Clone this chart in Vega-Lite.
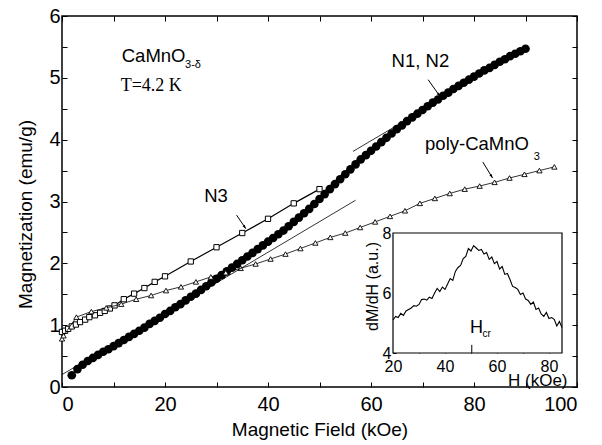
{
  "$schema": "https://vega.github.io/schema/vega-lite/v6.json",
  "width": 515,
  "height": 371,
  "autosize": {"type": "none"},
  "padding": {"left": 62, "top": 16, "right": 25, "bottom": 58},
  "background": "white",
  "config": {
    "view": {"stroke": "black", "strokeWidth": 1.5},
    "font": "Liberation Sans",
    "axis": {"grid": false, "domain": false, "tickColor": "black", "labelColor": "black", "titleColor": "black", "titleFontWeight": "normal", "labelFont": "Liberation Sans", "titleFont": "Liberation Sans", "zindex": 1}
  },
  "datasets": {
    "circles": [
      {"H":1.9,"M":0.19},{"H":3,"M":0.29},{"H":4,"M":0.36},{"H":5,"M":0.42},{"H":6,"M":0.47},{"H":7,"M":0.52},{"H":8,"M":0.57},{"H":9,"M":0.61},{"H":10,"M":0.66},
      {"H":11,"M":0.71},{"H":12,"M":0.76},{"H":13,"M":0.81},{"H":14,"M":0.86},{"H":15,"M":0.91},{"H":16,"M":0.96},{"H":17,"M":1.02},{"H":18,"M":1.07},{"H":19,"M":1.12},{"H":20,"M":1.18},
      {"H":21,"M":1.23},{"H":22,"M":1.29},{"H":23,"M":1.34},{"H":24,"M":1.40},{"H":25,"M":1.46},{"H":26,"M":1.51},{"H":27,"M":1.57},{"H":28,"M":1.63},{"H":29,"M":1.69},{"H":30,"M":1.75},
      {"H":31,"M":1.81},{"H":32,"M":1.87},{"H":33,"M":1.93},{"H":34,"M":1.99},{"H":35,"M":2.05},{"H":36,"M":2.11},{"H":37,"M":2.17},{"H":38,"M":2.23},{"H":39,"M":2.29},{"H":40,"M":2.35},
      {"H":41,"M":2.41},{"H":42,"M":2.47},{"H":43,"M":2.53},{"H":44,"M":2.60},{"H":45,"M":2.67},{"H":46,"M":2.74},{"H":47,"M":2.81},{"H":48,"M":2.88},{"H":49,"M":2.96},{"H":50,"M":3.04},
      {"H":51,"M":3.12},{"H":52,"M":3.20},{"H":53,"M":3.28},{"H":54,"M":3.36},{"H":55,"M":3.44},{"H":56,"M":3.52},{"H":57,"M":3.60},{"H":58,"M":3.68},{"H":59,"M":3.75},{"H":60,"M":3.82},
      {"H":61,"M":3.89},{"H":62,"M":3.96},{"H":63,"M":4.03},{"H":64,"M":4.10},{"H":65,"M":4.17},{"H":66,"M":4.23},{"H":67,"M":4.30},{"H":68,"M":4.36},{"H":69,"M":4.42},{"H":70,"M":4.48},
      {"H":71,"M":4.54},{"H":72,"M":4.60},{"H":73,"M":4.65},{"H":74,"M":4.71},{"H":75,"M":4.76},{"H":76,"M":4.82},{"H":77,"M":4.87},{"H":78,"M":4.92},{"H":79,"M":4.97},{"H":80,"M":5.02},
      {"H":81,"M":5.07},{"H":82,"M":5.12},{"H":83,"M":5.16},{"H":84,"M":5.21},{"H":85,"M":5.26},{"H":86,"M":5.30},{"H":87,"M":5.35},{"H":88,"M":5.39},{"H":89,"M":5.43},{"H":90,"M":5.47}
    ],
    "squares": [
      {"H":0,"M":0.89},{"H":0.6,"M":0.91},{"H":1.2,"M":0.94},{"H":1.9,"M":0.98},{"H":2.7,"M":1.01},{"H":3.5,"M":1.05},{"H":4.5,"M":1.09},{"H":5.3,"M":1.13},
      {"H":6.4,"M":1.16},{"H":7.4,"M":1.20},{"H":8.3,"M":1.23},{"H":9.3,"M":1.27},{"H":10.2,"M":1.32},{"H":12,"M":1.42},{"H":14,"M":1.51},{"H":16,"M":1.60},
      {"H":18,"M":1.70},{"H":20,"M":1.79},{"H":25,"M":2.03},{"H":30,"M":2.26},{"H":35,"M":2.49},{"H":40,"M":2.72},{"H":45,"M":2.97},{"H":50,"M":3.20}
    ],
    "triangles": [
      {"H":0,"M":0.78},{"H":0.3,"M":0.83},{"H":2.8,"M":1.13},{"H":5.7,"M":1.22},{"H":8.6,"M":1.28},{"H":11.5,"M":1.34},{"H":14.4,"M":1.42},{"H":17.3,"M":1.48},
      {"H":20.2,"M":1.56},{"H":23.1,"M":1.62},{"H":26,"M":1.70},{"H":28.9,"M":1.78},{"H":31.8,"M":1.85},{"H":34.7,"M":1.92},{"H":37.6,"M":1.99},{"H":40.5,"M":2.07},
      {"H":43.4,"M":2.15},{"H":46.3,"M":2.24},{"H":49.2,"M":2.33},{"H":52.1,"M":2.42},{"H":55,"M":2.49},{"H":57.9,"M":2.58},{"H":60.8,"M":2.67},{"H":63.7,"M":2.76},
      {"H":66.6,"M":2.85},{"H":69.5,"M":2.97},{"H":72.4,"M":3.05},{"H":75.3,"M":3.13},{"H":78.2,"M":3.20},{"H":81.1,"M":3.25},{"H":84,"M":3.31},{"H":86.9,"M":3.38},
      {"H":89.8,"M":3.44},{"H":92.7,"M":3.50},{"H":95.6,"M":3.56}
    ],
    "tangents": [
      {"line":"low","H":0,"M":0.2},{"line":"low","H":57,"M":3.02},
      {"line":"high","H":56.5,"M":3.81},{"line":"high","H":68.5,"M":4.4}
    ],
    "arrows": [
      {"name":"N3","H":33.9,"M":2.78,"H2":35.7,"M2":2.56},
      {"name":"N1N2","H":71.1,"M":4.97,"H2":73.4,"M2":4.70},
      {"name":"poly","H":81.7,"M":3.64,"H2":83.6,"M2":3.38}
    ],
    "dmdh": [
      {"H":20,"D":5.10},{"H":21,"D":5.22},{"H":22,"D":5.18},{"H":23,"D":5.32},{"H":24,"D":5.25},{"H":25,"D":5.40},{"H":26,"D":5.45},{"H":27,"D":5.50},{"H":28,"D":5.58},{"H":29,"D":5.56},
      {"H":30,"D":5.62},{"H":31,"D":5.78},{"H":32,"D":5.80},{"H":33,"D":5.76},{"H":34,"D":5.86},{"H":35,"D":5.82},{"H":36,"D":6.00},{"H":37,"D":6.15},{"H":38,"D":6.05},{"H":39,"D":6.20},
      {"H":40,"D":6.12},{"H":41,"D":6.30},{"H":42,"D":6.48},{"H":43,"D":6.42},{"H":44,"D":6.72},{"H":45,"D":6.85},{"H":46,"D":6.92},{"H":47,"D":7.15},{"H":48,"D":7.22},{"H":49,"D":7.48},
      {"H":50,"D":7.40},{"H":51,"D":7.58},{"H":52,"D":7.50},{"H":53,"D":7.42},{"H":54,"D":7.45},{"H":55,"D":7.30},{"H":56,"D":7.35},{"H":57,"D":7.12},{"H":58,"D":7.20},{"H":59,"D":6.98},
      {"H":60,"D":7.05},{"H":61,"D":6.80},{"H":62,"D":6.88},{"H":63,"D":6.62},{"H":64,"D":6.65},{"H":65,"D":6.45},{"H":66,"D":6.22},{"H":67,"D":6.18},{"H":68,"D":6.12},{"H":69,"D":5.95},
      {"H":70,"D":6.00},{"H":71,"D":5.80},{"H":72,"D":5.75},{"H":73,"D":5.62},{"H":74,"D":5.70},{"H":75,"D":5.45},{"H":76,"D":5.50},{"H":77,"D":5.30},{"H":78,"D":5.22},{"H":79,"D":5.35},
      {"H":80,"D":5.15},{"H":81,"D":5.18},{"H":82,"D":5.12},{"H":83,"D":4.90},{"H":84,"D":5.05},{"H":85,"D":4.85}
    ]
  },
  "layer": [
    {
      "encoding": {
        "x": {"field": "H", "type": "quantitative", "scale": {"domain": [0, 100], "nice": false, "zero": false},
          "axis": {"orient": "bottom", "values": [0,10,20,30,40,50,60,70,80,90,100], "labelExpr": "datum.value % 20 === 0 ? format(datum.value, 'd') : ''",
            "tickSize": -5, "labelFontSize": 20, "labelPadding": 12, "title": "Magnetic Field (kOe)", "titleFontSize": 19, "titlePadding": 6}},
        "y": {"field": "M", "type": "quantitative", "scale": {"domain": [0, 6], "nice": false, "zero": false},
          "axis": {"orient": "left", "values": [0,0.5,1,1.5,2,2.5,3,3.5,4,4.5,5,5.5,6], "labelExpr": "datum.value % 1 === 0 ? format(datum.value, 'd') : ''",
            "tickSize": -5, "labelFontSize": 20, "labelPadding": 7, "title": "Magnetization (emu/g)", "titleFontSize": 19,
            "titleAngle": -90, "titleX": -37, "titleY": 198, "titleAlign": "center", "titleBaseline": "middle"}}
      },
      "layer": [
        {"data": {"name": "circles"}, "mark": {"type": "point", "filled": true, "color": "black", "size": 75, "opacity": 1}},
        {"data": {"name": "squares"}, "mark": {"type": "line", "color": "black", "strokeWidth": 1.2}},
        {"data": {"name": "squares"}, "mark": {"type": "point", "shape": "square", "filled": true, "fill": "white", "stroke": "black", "strokeWidth": 1, "size": 28, "opacity": 1}},
        {"data": {"name": "triangles"}, "mark": {"type": "line", "color": "black", "strokeWidth": 0.8}},
        {"data": {"name": "triangles"}, "mark": {"type": "point", "shape": "triangle-up", "filled": true, "fill": "white", "stroke": "black", "strokeWidth": 0.9, "size": 28, "opacity": 1}},
        {"data": {"name": "tangents"}, "mark": {"type": "line", "color": "black", "strokeWidth": 0.8}, "encoding": {"detail": {"field": "line"}}},
        {"data": {"name": "arrows"}, "mark": {"type": "rule", "color": "black", "strokeWidth": 1}, "encoding": {"x2": {"field": "H2"}, "y2": {"field": "M2"}}},
        {"data": {"name": "arrows"}, "transform": [{"filter": "datum.name === 'N3'"}], "mark": {"type": "point", "shape": "M0,0L-0.45,1.3L0.45,1.3Z", "filled": true, "color": "black", "size": 36, "angle": 146, "opacity": 1}, "encoding": {"x": {"field": "H2", "type": "quantitative"}, "y": {"field": "M2", "type": "quantitative"}}},
        {"data": {"name": "arrows"}, "transform": [{"filter": "datum.name === 'N1N2'"}], "mark": {"type": "point", "shape": "M0,0L-0.45,1.3L0.45,1.3Z", "filled": true, "color": "black", "size": 36, "angle": 145, "opacity": 1}, "encoding": {"x": {"field": "H2", "type": "quantitative"}, "y": {"field": "M2", "type": "quantitative"}}},
        {"data": {"name": "arrows"}, "transform": [{"filter": "datum.name === 'poly'"}], "mark": {"type": "point", "shape": "M0,0L-0.45,1.3L0.45,1.3Z", "filled": true, "color": "black", "size": 36, "angle": 149, "opacity": 1}, "encoding": {"x": {"field": "H2", "type": "quantitative"}, "y": {"field": "M2", "type": "quantitative"}}},
        {"data": {"values": [{"H": 11.6, "M": 5.26, "t": "CaMnO"}, {"H": 27.6, "M": 3.0, "t": "N3"}, {"H": 64.0, "M": 5.18, "t": "N1, N2"}, {"H": 70.5, "M": 3.83, "t": "poly-CaMnO"}]},
          "mark": {"type": "text", "font": "Liberation Sans", "fontSize": 18.5, "align": "left", "baseline": "alphabetic", "color": "black"}, "encoding": {"text": {"field": "t"}}},
        {"data": {"values": [{"H": 23.9, "M": 5.16, "t": "3-δ"}, {"H": 91.6, "M": 3.67, "t": "3"}]},
          "mark": {"type": "text", "font": "Liberation Sans", "fontSize": 11, "align": "left", "baseline": "alphabetic", "color": "black"}, "encoding": {"text": {"field": "t"}}},
        {"data": {"values": [{"H": 11.4, "M": 4.79, "t": "T=4.2 K"}]},
          "mark": {"type": "text", "font": "Liberation Serif", "fontSize": 18, "align": "left", "baseline": "alphabetic", "color": "black"}, "encoding": {"text": {"field": "t"}}}
      ]
    },
    {
      "data": {"values": [{"H": 0, "M": 0}]},
      "mark": {"type": "point", "opacity": 0},
      "encoding": {
        "x": {"field": "H", "type": "quantitative", "scale": {"domain": [0, 100], "nice": false, "zero": false},
          "axis": {"orient": "top", "values": [0,10,20,30,40,50,60,70,80,90,100], "labels": false, "tickSize": -5, "title": null}},
        "y": {"field": "M", "type": "quantitative", "scale": {"domain": [0, 6], "nice": false, "zero": false},
          "axis": {"orient": "right", "values": [0,0.5,1,1.5,2,2.5,3,3.5,4,4.5,5,5.5,6], "labels": false, "tickSize": -5, "title": null}}
      }
    },
    {
      "encoding": {
        "x": {"field": "H", "type": "quantitative", "scale": {"domain": [-107.31, 90.77], "nice": false, "zero": false},
          "axis": {"orient": "bottom", "offset": -34, "values": [20,30,40,50,60,70,80], "labelExpr": "datum.value % 20 === 0 ? format(datum.value, 'd') : ''",
            "tickSize": -3, "labelFontSize": 16, "labelPadding": 8, "title": "H (kOe)", "titleFontSize": 17,
            "titleX": 505, "titleY": 32, "titleAlign": "right", "titleBaseline": "alphabetic", "titleAnchor": null}},
        "y": {"field": "D", "type": "quantitative", "scale": {"domain": [2.8667, 15.2333], "nice": false, "zero": false},
          "axis": {"orient": "left", "offset": -331, "values": [4,5,6,7,8], "labelExpr": "datum.value % 2 === 0 ? format(datum.value, 'd') : ''",
            "tickSize": -3, "labelFontSize": 16, "labelPadding": 5, "title": "dM/dH (a.u.)", "titleFontSize": 16,
            "titleAngle": -90, "titleX": -21, "titleY": 270, "titleAlign": "center", "titleBaseline": "middle"}}
      },
      "layer": [
        {"data": {"values": [{"H": 20, "D": 4, "H2": 85, "D2": 8}]}, "mark": {"type": "rect", "fill": "white", "stroke": "black", "strokeWidth": 1.2}, "encoding": {"x2": {"field": "H2"}, "y2": {"field": "D2"}}},
        {"data": {"name": "dmdh"}, "mark": {"type": "line", "color": "black", "strokeWidth": 1.1}},
        {"data": {"values": [{"H": 50.3, "D": 4, "D2": 4.27}]}, "mark": {"type": "rule", "color": "black", "strokeWidth": 1}, "encoding": {"y2": {"field": "D2"}}},
        {"data": {"values": [{"H": 49.6, "D": 4.66, "t": "H"}]}, "mark": {"type": "text", "fontSize": 18, "align": "left", "baseline": "alphabetic", "color": "black"}, "encoding": {"text": {"field": "t"}}},
        {"data": {"values": [{"H": 54.4, "D": 4.53, "t": "cr"}]}, "mark": {"type": "text", "fontSize": 10, "align": "left", "baseline": "alphabetic", "color": "black"}, "encoding": {"text": {"field": "t"}}}
      ]
    }
  ],
  "resolve": {"scale": {"x": "independent", "y": "independent"}, "axis": {"x": "independent", "y": "independent"}}
}
